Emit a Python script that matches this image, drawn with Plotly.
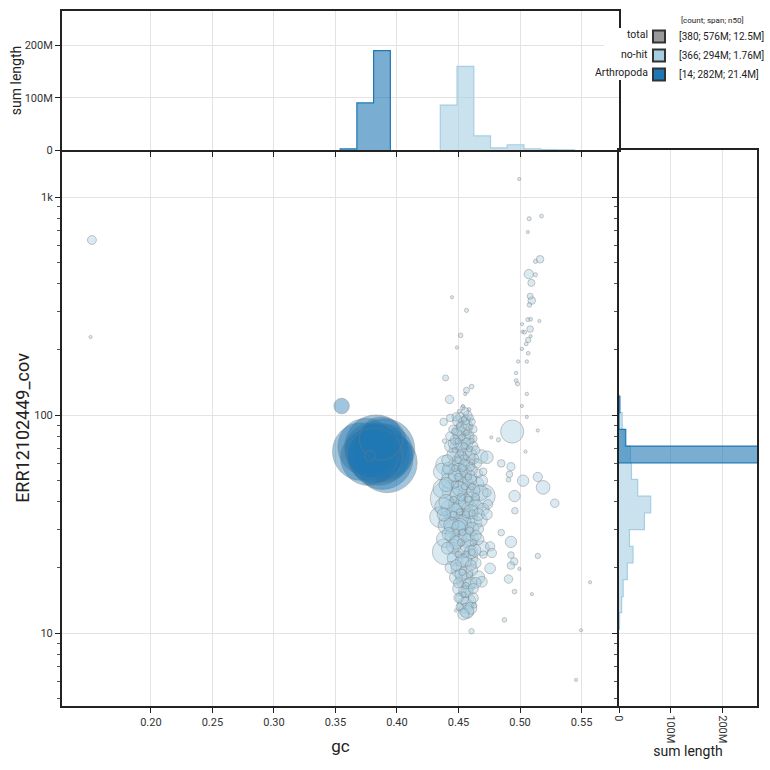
import math
import plotly.graph_objects as go

# ---------------- categories / legend ----------------
cat_names = ["total", "no-hit", "Arthropoda"]
cat_stats = ["[380; 576M; 12.5M]", "[366; 294M; 1.76M]", "[14; 282M; 21.4M]"]
cat_colors = ["#999999", "#a6cee3", "#1f78b4"]
legend_header = "[count; span; n50]"

# ---------------- Arthropoda contigs (gc, coverage, length in Mb) ----------------
arth_gc = [0.355, 0.371, 0.375, 0.377, 0.380, 0.383, 0.385, 0.387, 0.388, 0.390, 0.392, 0.389, 0.382, 0.378]
arth_cov = [110, 68, 71.5, 64, 69, 72, 66, 78, 63, 70, 60.5, 67, 65, 65]
arth_len = [1.66, 23, 22.5, 22, 21.6, 27, 26.5, 13, 26, 25, 25, 24, 21.4, 0.8]

# ---------------- no-hit contigs (gc, coverage, length in Mb) ----------------
nohit_gc = [
    0.1521, 0.1510, 0.4993, 0.5074, 0.5174, 0.5063, 0.5163, 0.5125, 0.5071, 0.5125,
    0.5092, 0.5082, 0.5095, 0.5076, 0.4447, 0.4565, 0.4517, 0.4487, 0.4395, 0.4427,
    0.4565, 0.4606, 0.4555, 0.5017, 0.5063, 0.5086, 0.5157, 0.5082, 0.5036, 0.5020,
    0.5086, 0.5066, 0.5050, 0.5015, 0.5066, 0.4985, 0.5055, 0.4968, 0.4968, 0.4979,
    0.5055, 0.4536, 0.5015, 0.5055, 0.4936, 0.5144, 0.4766, 0.4825, 0.5044, 0.4847,
    0.4926, 0.4914, 0.4906, 0.5025, 0.5144, 0.5187, 0.5282, 0.4955, 0.4958, 0.4684,
    0.4731, 0.4847, 0.4926, 0.4757, 0.4771, 0.5144, 0.4926, 0.4952, 0.4926, 0.4995,
    0.4757, 0.4690, 0.4906, 0.4955, 0.5096, 0.5569, 0.4628, 0.4479, 0.4873, 0.4606,
    0.5496, 0.5455, 0.4703, 0.4700, 0.4417, 0.4393, 0.4393, 0.4379, 0.4433, 0.4387,
    # column top
    0.4535, 0.4555, 0.4575, 0.4515, 0.4595, 0.4495, 0.4545, 0.4575, 0.4610, 0.4525,
    0.4455, 0.4560,
    # upper middle
    0.4490, 0.4540, 0.4590, 0.4620, 0.4470, 0.4515, 0.4570, 0.4620, 0.4435, 0.4490,
    0.4550, 0.4600, 0.4460, 0.4520, 0.4580, 0.4625, 0.4410, 0.4480, 0.4545, 0.4600,
    # middle
    0.4365, 0.4440, 0.4500, 0.4560, 0.4610, 0.4660, 0.4420, 0.4480, 0.4530, 0.4590,
    0.4640, 0.4690, 0.4370, 0.4450, 0.4510, 0.4570, 0.4620, 0.4680,
    # 30-40
    0.4380, 0.4440, 0.4490, 0.4540, 0.4590, 0.4640, 0.4700, 0.4740, 0.4350, 0.4420,
    0.4480, 0.4530, 0.4580, 0.4630, 0.4680, 0.4730, 0.4400, 0.4460, 0.4510, 0.4560,
    0.4610,
    # 22-30
    0.4390, 0.4450, 0.4500, 0.4550, 0.4600, 0.4660, 0.4460, 0.4520, 0.4570, 0.4630,
    0.4690, 0.4470, 0.4530, 0.4590, 0.4640,
    # 12-21
    0.4440, 0.4500, 0.4560, 0.4610, 0.4480, 0.4540, 0.4600, 0.4660, 0.4510, 0.4570,
    0.4620, 0.4530, 0.4580, 0.4555, 0.4600, 0.4565, 0.4510,
    # small fill
    0.4505, 0.4585, 0.4545, 0.4505, 0.4600, 0.4470, 0.4565, 0.4525, 0.4605, 0.4495,
    0.4545, 0.4470, 0.4590, 0.4515, 0.4560, 0.4495, 0.4610, 0.4530, 0.4470, 0.4580,
    0.4500, 0.4550, 0.4470, 0.4610, 0.4520, 0.4580, 0.4460, 0.4640, 0.4510, 0.4560,
    0.4610, 0.4460, 0.4530, 0.4480, 0.4590, 0.4500, 0.4560, 0.4610, 0.4530, 0.4590,
    0.4560, 0.4540, 0.4520, 0.4620,
    # more column contigs
    0.4480, 0.4560, 0.4620, 0.4500, 0.4430, 0.4580, 0.4525, 0.4460, 0.4640, 0.4510,
    0.4570, 0.4420, 0.4650, 0.4540, 0.4470, 0.4600, 0.4700, 0.4400, 0.4560, 0.4500,
    0.4610, 0.4730, 0.4400, 0.4560, 0.4470, 0.4600, 0.4660, 0.4380, 0.4540, 0.4440,
    0.4660, 0.4500, 0.4420, 0.4580, 0.4640, 0.4480, 0.4410, 0.4600, 0.4550, 0.4480,
    0.4600, 0.4520, 0.4640, 0.4500, 0.4580, 0.4550, 0.4500, 0.4620, 0.4570, 0.4540,
]
nohit_cov = [
    635, 228, 1209, 795, 818, 691, 518, 507, 443, 440,
    404, 351, 335, 320, 347, 302, 232, 204, 148, 118,
    130, 135, 125, 261, 274, 275, 270, 248, 240, 241,
    230, 221, 212, 201, 192, 176, 176, 156, 144, 139,
    125, 110, 110, 98, 84, 85, 79, 77, 68, 60,
    58, 53.5, 50.5, 50, 52, 46.6, 39.4, 42.5, 36.4, 64.5,
    64, 28.9, 26.2, 25, 23.3, 22.6, 22.8, 21.3, 20.4, 19.7,
    19.8, 17.2, 17.7, 15.5, 15.1, 17.1, 13.4, 12.7, 11.5, 10.2,
    10.3, 6.1, 22.9, 42.5, 41.4, 23.6, 59, 93, 97, 76,
    # column top
    108, 104, 100, 98, 97, 94, 92, 90, 93, 88,
    86, 86,
    # upper middle
    82, 80, 81, 78, 77, 75, 74, 72, 72, 70,
    68, 67, 66, 64, 62, 63, 62, 60, 59, 58,
    # middle
    55, 54, 56, 55, 56, 54, 50, 51, 49, 50,
    48, 50, 46, 45, 46, 44, 45, 44,
    # 30-40
    38, 37, 39, 38, 37, 38, 37, 39, 34, 33,
    34, 33, 34, 32, 33, 35, 31, 30, 31, 30,
    30,
    # 22-30
    27, 28, 27, 28, 27, 27, 25, 24, 25, 24,
    24.5, 22, 21.5, 22, 21,
    # 12-21
    20, 19.5, 19, 19.5, 18, 17.5, 17, 18, 16, 15.5,
    16, 14.5, 14, 13.4, 13, 12.7, 13.2,
    # small fill
    104, 106, 96, 90, 88, 84, 83, 79, 76, 76,
    72, 69, 70, 67, 64, 62, 61, 57, 57, 52,
    52, 47, 48, 47, 42, 41, 41, 42, 36, 35,
    35.5, 35, 29, 29, 29.5, 23, 23, 23.5, 19, 18.5,
    16.5, 15, 26, 26,
    # more column contigs
    98, 95, 86, 85, 80, 78, 72, 74, 69, 61,
    58, 57, 60, 53, 53, 52, 55, 48, 48, 43,
    41, 44, 40, 40, 36, 36, 35, 35, 32, 31.5,
    30, 30.5, 28.5, 26.5, 28, 26, 24.5, 23.5, 21.5, 20.5,
    20.5, 18.5, 17, 17, 16.5, 15.5, 14.5, 14.5, 12.5, 12.2,
]
nohit_len = [
    0.55, 0.06, 0.06, 0.12, 0.10, 0.05, 0.40, 0.12, 0.60, 0.12,
    0.35, 0.25, 0.40, 0.15, 0.05, 0.12, 0.15, 0.06, 0.25, 0.50,
    0.25, 0.15, 0.08, 0.05, 0.12, 0.10, 0.05, 0.30, 0.12, 0.05,
    0.05, 0.20, 0.10, 0.08, 0.10, 0.08, 0.08, 0.08, 0.10, 0.12,
    0.08, 0.05, 0.05, 0.05, 3.70, 0.06, 0.06, 0.12, 0.05, 0.40,
    0.45, 0.30, 0.15, 0.90, 0.60, 1.30, 0.50, 0.90, 0.30, 1.30,
    1.10, 0.30, 0.90, 0.60, 0.60, 0.20, 0.30, 0.40, 0.40, 0.05,
    0.80, 0.80, 0.50, 0.15, 0.04, 0.04, 0.20, 0.05, 0.15, 0.20,
    0.04, 0.05, 0.40, 4.00, 8.90, 4.70, 2.60, 0.40, 0.40, 0.15,
    # column top
    0.15, 0.4, 0.5, 0.6, 0.3, 0.8, 0.9, 0.6, 0.3, 0.7,
    0.5, 1.0,
    # upper middle
    0.7, 1.2, 0.5, 0.4, 0.6, 1.5, 0.9, 0.6, 1.0, 1.8,
    1.3, 0.8, 1.2, 1.1, 1.6, 0.7, 0.9, 1.4, 0.8, 0.5,
    # middle
    2.0, 2.5, 1.2, 1.0, 0.8, 0.5, 1.6, 1.8, 2.2, 1.3,
    1.9, 0.9, 2.5, 3.0, 1.5, 2.0, 1.2, 1.6,
    # 30-40
    2.2, 2.8, 2.0, 2.5, 1.8, 1.4, 1.0, 0.6, 3.0, 2.6,
    3.2, 2.0, 2.4, 1.5, 1.2, 0.8, 1.8, 2.4, 1.6, 2.1,
    1.3,
    # 22-30
    2.0, 1.5, 1.8, 1.2, 1.6, 0.9, 1.4, 2.0, 1.3, 1.1,
    1.5, 1.6, 1.2, 1.8, 0.8,
    # 12-21
    1.0, 1.5, 1.3, 0.9, 1.2, 1.6, 1.0, 1.2, 1.4, 1.0,
    0.7, 1.2, 1.5, 1.8, 1.0, 1.5, 0.4,
    # small fill
    0.1, 0.1, 0.2, 0.2, 0.15, 0.3, 0.2, 0.3, 0.2, 0.25,
    0.3, 0.2, 0.25, 0.3, 0.2, 0.3, 0.2, 0.4, 0.3, 0.3,
    0.4, 0.3, 0.4, 0.3, 0.4, 0.3, 0.3, 0.4, 0.3, 0.4,
    0.3, 0.3, 0.3, 0.3, 0.4, 0.3, 0.3, 0.3, 0.3, 0.3,
    0.3, 0.2, 0.35, 0.3,
    # more column contigs
    0.5, 0.6, 0.4, 0.9, 0.5, 1.0, 1.2, 0.8, 0.5, 1.6,
    1.2, 1.0, 0.6, 1.5, 1.2, 1.0, 0.4, 1.4, 1.8, 2.0,
    1.5, 0.5, 1.5, 1.6, 1.8, 1.4, 1.0, 1.2, 1.8, 1.5,
    0.8, 1.3, 1.2, 1.5, 0.8, 1.2, 1.0, 1.2, 1.4, 0.8,
    0.8, 1.0, 0.8, 0.7, 1.2, 0.9, 0.6, 0.7, 1.2, 0.9,
]

# ---------------- histograms: summed length per bin (Mb) ----------------
arth_gc_edges = [0.3538, 0.3674, 0.3810, 0.3946]
arth_gc_sum = [2, 90, 190]
nohit_gc_edges = [0.4352, 0.4488, 0.4624, 0.4760, 0.4896, 0.5032, 0.5168, 0.5304, 0.5440]
nohit_gc_sum = [86, 160, 27, 4, 10, 2, 0.8, 0.3]

nohit_cov_edges = [10.4, 12.4, 14.7, 17.6, 21.0, 25.0, 29.8, 35.6, 42.5, 50.7, 60.4, 72.1, 86.0, 102.6, 122.3]
nohit_cov_sum = [1, 5, 8, 16, 27, 20, 49, 61, 36, 24, 22, 10, 6, 0.8]
arth_cov_edges = [60.4, 72.1, 86.0, 102.6, 122.3]
arth_cov_sum = [268, 13, 0, 1.7]

# ---------------- axis ticks ----------------
gc_ticks = [0.20, 0.25, 0.30, 0.35, 0.40, 0.45, 0.50, 0.55]
cov_ticks = [10, 100, 1000]
cov_ticktext = ["10", "100", "1k"]
len_ticks = [0, 100e6, 200e6]
len_ticktext = ["0", "100M", "200M"]

# ---------------- figure ----------------
W = H = 770
X0, X1, XR = 62 / W, 619 / W, 757 / W
Y0, Y1, YT = 1 - 706 / H, 1 - 150 / H, 1 - 11 / H
FONT = "Roboto"
AX = "#222222"
GRID = "#e3e3e3"
MB = 1e6


def rgba(hexc, a):
    h = hexc.lstrip("#")
    return "rgba(%d,%d,%d,%s)" % (int(h[0:2], 16), int(h[2:4], 16), int(h[4:6], 16), a)


fig = go.Figure()

# bubble size: area proportional to length (about 60 px across for 25 Mb)
SIZEREF = 4 * 25 / (2 * 60 ** 2)


def bubbles(gc, cov, ln, color):
    order = sorted(range(len(ln)), key=lambda i: -ln[i])
    return go.Scatter(
        x=[gc[i] for i in order], y=[cov[i] for i in order], mode="markers",
        marker=dict(size=[ln[i] for i in order], sizemode="area", sizeref=SIZEREF, sizemin=1.6,
                    color=rgba(color, 0.6), line=dict(color="rgba(125,125,125,0.9)", width=0.7)),
        showlegend=False, hoverinfo="skip", xaxis="x", yaxis="y")


fig.add_trace(bubbles(nohit_gc, nohit_cov, nohit_len, cat_colors[1]))
fig.add_trace(bubbles(arth_gc, arth_cov, arth_len, cat_colors[2]))


def top_hist(edges, vals, color):
    return go.Scatter(x=[edges[0]] + edges, y=[0] + [v * MB for v in vals] + [0],
                      mode="lines", line=dict(shape="hv", color=color, width=1.2),
                      fill="tozeroy", fillcolor=rgba(color, 0.6), showlegend=False,
                      hoverinfo="skip", xaxis="x2", yaxis="y2")


def side_hist(edges, vals, color):
    return go.Scatter(x=[0] + [v * MB for v in vals] + [0], y=edges + [edges[-1]],
                      mode="lines", line=dict(shape="hv", color=color, width=1.2),
                      fill="tozerox", fillcolor=rgba(color, 0.6), showlegend=False,
                      hoverinfo="skip", xaxis="x3", yaxis="y3")


fig.add_trace(top_hist(nohit_gc_edges, nohit_gc_sum, cat_colors[1]))
fig.add_trace(top_hist(arth_gc_edges, arth_gc_sum, cat_colors[2]))
fig.add_trace(side_hist(nohit_cov_edges, nohit_cov_sum, cat_colors[1]))
fig.add_trace(side_hist(arth_cov_edges, arth_cov_sum, cat_colors[2]))

# legend entries
for name, stat, col in zip(cat_names, cat_stats, cat_colors):
    fig.add_trace(go.Scatter(x=[None], y=[None], mode="markers", name=stat,
                             marker=dict(symbol="square", size=11, color=col,
                                         line=dict(color="#333333", width=1)),
                             xaxis="x", yaxis="y"))

minor_cov = [m * d for d in (1, 10, 100, 1000) for m in range(2, 10) if 4.6 < m * d < 1650]

common = dict(showline=True, linecolor=AX, linewidth=2, ticks="outside",
              ticklen=5, tickwidth=1.3, tickcolor=AX, gridcolor=GRID, gridwidth=1,
              zeroline=False, tickfont=dict(family=FONT, size=11, color="#333333"),
              automargin=False)
minor_style = dict(tickmode="array", tickvals=minor_cov, ticks="outside", ticklen=3,
                   tickwidth=1, tickcolor="#555555", showgrid=False)

fig.update_layout(
    width=W, height=H, margin=dict(l=0, r=0, t=0, b=0),
    paper_bgcolor="white", plot_bgcolor="white",
    font=dict(family=FONT, color="#222222"),
    # main scatter: bottom and left frame lines (top/right come from the histogram axes)
    xaxis=dict(domain=[X0, X1], range=[0.1278, 0.5804], anchor="y", tickmode="array",
               tickvals=gc_ticks, tickformat=".2f", mirror=False,
               title=dict(text="gc", font=dict(size=17, family=FONT), standoff=12), **common),
    yaxis=dict(domain=[Y0, Y1], type="log", range=[math.log10(4.63), math.log10(1643)], anchor="x",
               tickmode="array", tickvals=cov_ticks, ticktext=cov_ticktext, minor=minor_style,
               mirror=False,
               title=dict(text="ERR12102449_cov", font=dict(size=18, family=FONT), standoff=0),
               **common),
    xaxis2=dict(domain=[X0, X1], anchor="y2", matches="x", tickmode="array", tickvals=gc_ticks,
                showticklabels=False, mirror=True, **common),
    yaxis2=dict(domain=[Y1, YT], anchor="x2", range=[0, 266e6], tickmode="array",
                tickvals=len_ticks, ticktext=len_ticktext, mirror=True,
                title=dict(text="sum length", font=dict(size=14, family=FONT), standoff=0),
                **common),
    xaxis3=dict(domain=[X1, XR], anchor="y3", range=[0, 266e6], tickmode="array",
                tickvals=len_ticks, ticktext=len_ticktext, tickangle=90, mirror=True,
                title=dict(text="sum length", font=dict(size=14, family=FONT), standoff=2),
                **common),
    yaxis3=dict(domain=[Y0, Y1], anchor="x3", type="log", matches="y", tickmode="array",
                tickvals=cov_ticks, showticklabels=False, minor=minor_style, mirror=True,
                **common),
    legend=dict(x=1.0, y=1 - 22 / H, xanchor="right", yanchor="top",
                bgcolor="rgba(255,255,255,0)", font=dict(family=FONT, size=10, color="#222222"),
                itemsizing="constant", tracegroupgap=0, itemwidth=30),
    shapes=[dict(type="rect", xref="paper", yref="paper", x0=604 / W, x1=1.0,
                 y0=1 - 80 / H, y1=1 - 28 / H, fillcolor="white", line=dict(width=0),
                 layer="above")],
    showlegend=True,
)

ann = [dict(text=legend_header, x=712 / W, y=1 - 20 / H, xref="paper", yref="paper",
            showarrow=False, font=dict(family=FONT, size=8, color="#222222"),
            xanchor="center", yanchor="middle")]
for i, name in enumerate(cat_names):
    ann.append(dict(text=name, x=650 / W, y=1 - (35 + 19 * i) / H, xref="paper", yref="paper",
                    showarrow=False, xanchor="right", yanchor="middle",
                    font=dict(family=FONT, size=10.5, color="#222222")))
fig.update_layout(annotations=ann)

fig.write_html("out.html")
